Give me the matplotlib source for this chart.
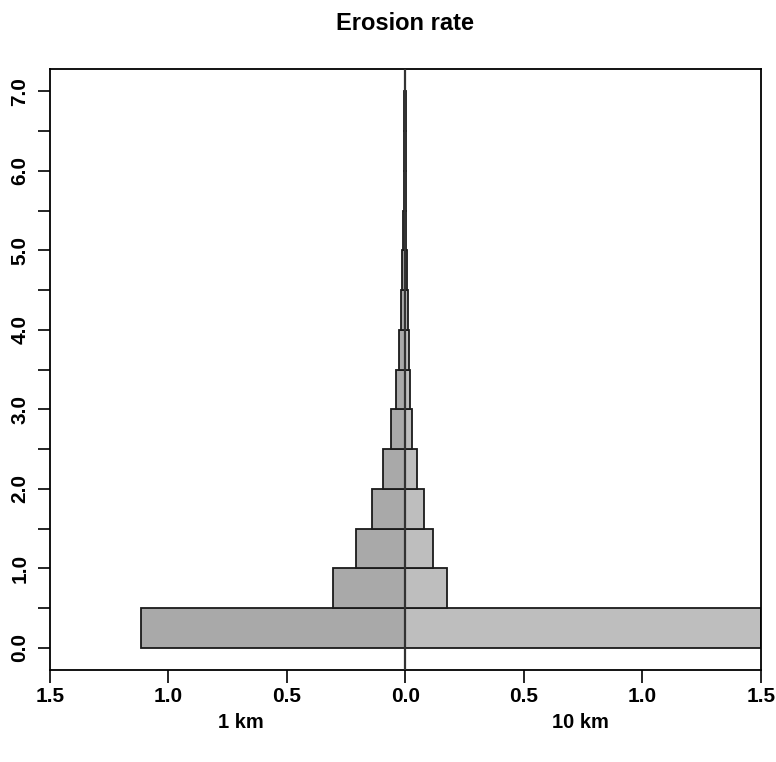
import numpy as np
import matplotlib
matplotlib.use("Agg")
import matplotlib.pyplot as plt
from matplotlib.ticker import FixedLocator, FuncFormatter

plt.rcParams["font.family"] = ["Liberation Sans", "DejaVu Sans"]
plt.rcParams["font.weight"] = "bold"

# bin edges (erosion rate) and the two back-to-back distributions
bin_lo = [0.0, 0.5, 1.0, 1.5, 2.0, 2.5, 3.0, 3.5, 4.0, 4.5, 5.0, 5.5, 6.0, 6.5]
bin_width = 0.5
left_1km = [1.114, 0.306, 0.209, 0.141, 0.094, 0.062, 0.041, 0.027, 0.018,
            0.013, 0.009, 0.007, 0.005, 0.004]
right_10km = [1.50, 0.177, 0.116, 0.080, 0.050, 0.030, 0.021, 0.016, 0.011,
              0.007, 0.004, 0.002, 0.002, 0.001]
left_label = "1 km"
right_label = "10 km"
title = "Erosion rate"

fig = plt.figure(figsize=(7.76, 7.62), dpi=100)
ax = fig.add_axes([0.0644, 0.1207, 0.9159, 0.7887])

bottoms = np.array(bin_lo)
ax.barh(bottoms, -np.array(left_1km), height=bin_width, align="edge",
        color="#A9A9A9", edgecolor="#1a1a1a", linewidth=1.3, zorder=2)
ax.barh(bottoms, np.array(right_10km), height=bin_width, align="edge",
        color="#BEBEBE", edgecolor="#1a1a1a", linewidth=1.3, zorder=2)
ax.axvline(0, color="#333333", linewidth=1.6, zorder=3)

ax.set_xlim(-1.5, 1.5)
ax.set_ylim(-0.28, 7.28)

xt = np.arange(-1.5, 1.51, 0.5)
ax.xaxis.set_major_locator(FixedLocator(xt))
ax.xaxis.set_major_formatter(FuncFormatter(lambda v, p: f"{abs(v):.1f}"))

yt = np.arange(0, 7.01, 0.5)
ax.yaxis.set_major_locator(FixedLocator(yt))
ax.yaxis.set_major_formatter(
    FuncFormatter(lambda v, p: f"{v:.1f}" if abs(v - round(v)) < 1e-9 else ""))

ax.tick_params(axis="both", direction="out", length=9, width=1.2,
               labelsize=15, colors="black")
ax.tick_params(axis="x", pad=3.5)
ax.tick_params(axis="y", pad=6)
for lab in ax.get_yticklabels():
    lab.set_rotation(90)
    lab.set_va("center")
for s in ax.spines.values():
    s.set_linewidth(1.3)

fig.text(241 / 776, 1 - 723 / 762, left_label, ha="center", va="center",
         fontsize=14.5, fontweight="bold")
fig.text(580 / 776, 1 - 723 / 762, right_label, ha="center", va="center",
         fontsize=14.5, fontweight="bold")
fig.text(405 / 776, 1 - 23 / 762, title, ha="center", va="center",
         fontsize=17, fontweight="bold")

fig.savefig("out.png", dpi=100)
